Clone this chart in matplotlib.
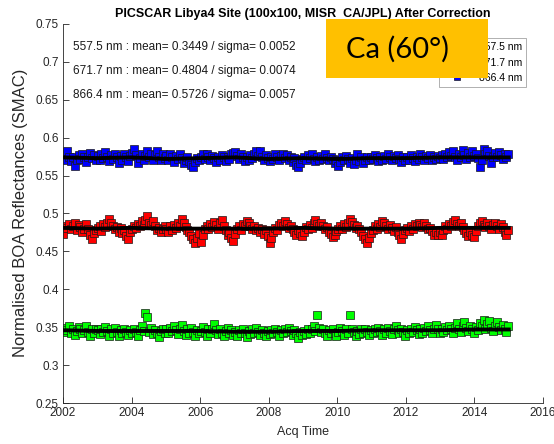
import matplotlib

matplotlib.use("Agg")
import matplotlib.pyplot as plt
import matplotlib.dates as mdates
import pandas as pd
from matplotlib.patches import Rectangle

plt.rcParams["font.family"] = ["Liberation Sans", "DejaVu Sans"]

W, H = 554, 444  # output size in pixels (dpi 100)

# band names, stats printed in the corner, marker colours
BANDS = ["557.5 nm", "671.7 nm", "866.4 nm"]
MEANS = [0.3449, 0.4804, 0.5726]
SIGMAS = [0.0052, 0.0074, 0.0057]
COLORS = ["#00ff00", "#ff0000", "#0000ff"]

# normalised BOA reflectances, one row per year 2002..2014
green = [
    0.344, 0.349, 0.346, 0.351, 0.343, 0.348, 0.340, 0.345, 0.350, 0.347, 0.342, 0.346, 0.352, 0.344, 0.339, 0.347, 0.343, 0.348,
    0.346, 0.341, 0.348, 0.344, 0.350, 0.345, 0.339, 0.347, 0.343, 0.349, 0.344, 0.338, 0.346, 0.342, 0.348, 0.344, 0.340, 0.346,
    0.343, 0.348, 0.344, 0.339, 0.346, 0.351, 0.345, 0.369, 0.363, 0.344, 0.349, 0.341, 0.346, 0.343, 0.337, 0.345, 0.348, 0.342,
    0.347, 0.343, 0.349, 0.345, 0.351, 0.346, 0.341, 0.348, 0.353, 0.345, 0.340, 0.347, 0.343, 0.349, 0.344, 0.339, 0.346, 0.342,
    0.345, 0.350, 0.344, 0.339, 0.347, 0.343, 0.348, 0.354, 0.346, 0.341, 0.347, 0.343, 0.338, 0.345, 0.349, 0.342, 0.346, 0.340,
    0.344, 0.339, 0.346, 0.342, 0.348, 0.343, 0.337, 0.345, 0.341, 0.347, 0.343, 0.349, 0.344, 0.340, 0.346, 0.342, 0.338, 0.345,
    0.341, 0.346, 0.343, 0.348, 0.344, 0.339, 0.346, 0.342, 0.348, 0.344, 0.349, 0.345, 0.340, 0.346, 0.342, 0.336, 0.344, 0.340,
    0.345, 0.341, 0.347, 0.343, 0.348, 0.352, 0.345, 0.366, 0.349, 0.344, 0.348, 0.343, 0.339, 0.346, 0.342, 0.347, 0.343, 0.338,
    0.344, 0.349, 0.345, 0.340, 0.347, 0.343, 0.366, 0.348, 0.344, 0.338, 0.345, 0.341, 0.347, 0.343, 0.348, 0.344, 0.340, 0.346,
    0.342, 0.348, 0.344, 0.349, 0.345, 0.340, 0.347, 0.343, 0.349, 0.345, 0.341, 0.347, 0.352, 0.346, 0.342, 0.348, 0.344, 0.339,
    0.346, 0.342, 0.348, 0.344, 0.350, 0.346, 0.341, 0.347, 0.343, 0.349, 0.345, 0.351, 0.346, 0.342, 0.348, 0.353, 0.347, 0.343,
    0.348, 0.344, 0.350, 0.346, 0.352, 0.347, 0.343, 0.349, 0.355, 0.348, 0.344, 0.351, 0.357, 0.349, 0.345, 0.352, 0.347, 0.343,
    0.350, 0.346, 0.356, 0.351, 0.360, 0.348, 0.354, 0.358, 0.349, 0.345, 0.352, 0.357, 0.350, 0.346, 0.353, 0.348, 0.344, 0.351,
]
red = [
    0.473, 0.484, 0.481, 0.486, 0.479, 0.483, 0.487, 0.478, 0.485, 0.482, 0.476, 0.480, 0.486, 0.479, 0.472, 0.466, 0.474, 0.478,
    0.481, 0.484, 0.477, 0.486, 0.482, 0.488, 0.493, 0.487, 0.484, 0.479, 0.482, 0.476, 0.481, 0.474, 0.478, 0.470, 0.467, 0.475,
    0.479, 0.484, 0.481, 0.486, 0.483, 0.490, 0.485, 0.491, 0.497, 0.488, 0.485, 0.490, 0.483, 0.478, 0.481, 0.475, 0.479, 0.483,
    0.480, 0.476, 0.483, 0.478, 0.485, 0.481, 0.488, 0.484, 0.493, 0.487, 0.482, 0.478, 0.475, 0.470, 0.466, 0.461, 0.468, 0.474,
    0.463, 0.471, 0.479, 0.484, 0.480, 0.486, 0.482, 0.489, 0.485, 0.480, 0.487, 0.491, 0.484, 0.478, 0.472, 0.476, 0.468, 0.464,
    0.473, 0.480, 0.484, 0.478, 0.486, 0.483, 0.490, 0.487, 0.484, 0.479, 0.483, 0.478, 0.481, 0.476, 0.480, 0.473, 0.478, 0.470,
    0.461, 0.468, 0.475, 0.481, 0.478, 0.485, 0.488, 0.483, 0.490, 0.486, 0.481, 0.484, 0.479, 0.475, 0.471, 0.478, 0.474, 0.470,
    0.476, 0.482, 0.479, 0.485, 0.481, 0.487, 0.492, 0.486, 0.483, 0.488, 0.484, 0.479, 0.482, 0.476, 0.473, 0.469, 0.471, 0.477,
    0.480, 0.484, 0.479, 0.486, 0.482, 0.488, 0.493, 0.489, 0.485, 0.481, 0.484, 0.479, 0.475, 0.470, 0.466, 0.461, 0.468, 0.474,
    0.478, 0.483, 0.480, 0.486, 0.482, 0.490, 0.487, 0.484, 0.480, 0.485, 0.481, 0.477, 0.482, 0.475, 0.471, 0.466, 0.473, 0.478,
    0.481, 0.477, 0.484, 0.480, 0.486, 0.483, 0.488, 0.485, 0.482, 0.487, 0.483, 0.479, 0.481, 0.477, 0.472, 0.475, 0.471, 0.476,
    0.471, 0.478, 0.483, 0.480, 0.486, 0.483, 0.489, 0.492, 0.486, 0.483, 0.487, 0.482, 0.478, 0.474, 0.470, 0.476, 0.472, 0.469,
    0.477, 0.483, 0.487, 0.490, 0.485, 0.482, 0.487, 0.484, 0.480, 0.485, 0.488, 0.483, 0.479, 0.486, 0.482, 0.476, 0.472, 0.478,
]
blue = [
    0.571, 0.578, 0.583, 0.575, 0.569, 0.574, 0.563, 0.570, 0.577, 0.572, 0.579, 0.574, 0.568, 0.575, 0.580, 0.573, 0.577, 0.571,
    0.576, 0.570, 0.578, 0.573, 0.581, 0.575, 0.569, 0.577, 0.572, 0.579, 0.574, 0.567, 0.576, 0.571, 0.578, 0.574, 0.569, 0.576,
    0.580, 0.585, 0.577, 0.566, 0.573, 0.578, 0.571, 0.576, 0.582, 0.574, 0.579, 0.570, 0.577, 0.583, 0.575, 0.571, 0.578, 0.573,
    0.576, 0.570, 0.579, 0.574, 0.568, 0.576, 0.572, 0.578, 0.573, 0.567, 0.571, 0.575, 0.569, 0.564, 0.562, 0.568, 0.573, 0.570,
    0.574, 0.578, 0.572, 0.579, 0.575, 0.570, 0.576, 0.573, 0.568, 0.575, 0.571, 0.577, 0.574, 0.569, 0.575, 0.572, 0.578, 0.580,
    0.581, 0.576, 0.572, 0.578, 0.574, 0.569, 0.575, 0.571, 0.577, 0.573, 0.579, 0.583, 0.576, 0.582, 0.575, 0.571, 0.577, 0.573,
    0.569, 0.575, 0.572, 0.578, 0.574, 0.570, 0.576, 0.579, 0.573, 0.577, 0.571, 0.575, 0.568, 0.573, 0.564, 0.562, 0.567, 0.572,
    0.574, 0.570, 0.577, 0.573, 0.578, 0.572, 0.569, 0.575, 0.571, 0.576, 0.572, 0.578, 0.573, 0.570, 0.575, 0.572, 0.566, 0.571,
    0.563, 0.568, 0.574, 0.570, 0.576, 0.572, 0.567, 0.573, 0.565, 0.571, 0.578, 0.569, 0.574, 0.566, 0.571, 0.575, 0.570, 0.574,
    0.572, 0.577, 0.573, 0.569, 0.575, 0.571, 0.576, 0.572, 0.578, 0.574, 0.570, 0.576, 0.573, 0.577, 0.572, 0.568, 0.574, 0.571,
    0.575, 0.571, 0.577, 0.573, 0.569, 0.575, 0.572, 0.578, 0.574, 0.570, 0.576, 0.573, 0.577, 0.571, 0.575, 0.572, 0.576, 0.573,
    0.577, 0.572, 0.578, 0.574, 0.581, 0.576, 0.583, 0.575, 0.571, 0.579, 0.574, 0.584, 0.577, 0.572, 0.580, 0.575, 0.582, 0.576,
    0.579, 0.573, 0.562, 0.570, 0.585, 0.578, 0.583, 0.576, 0.566, 0.574, 0.580, 0.575, 0.581, 0.577, 0.572, 0.578, 0.575, 0.579,
]

# smoothed reference level (black), one value per 1 January
FIT_YEARS = [2002, 2003, 2004, 2005, 2006, 2007, 2008, 2009, 2010, 2011, 2012, 2013, 2014, 2015]
green_fit = [0.346, 0.345, 0.345, 0.345, 0.345, 0.344, 0.344, 0.345, 0.345, 0.346, 0.346, 0.346, 0.347, 0.347]
red_fit = [0.481, 0.480, 0.481, 0.480, 0.480, 0.480, 0.480, 0.481, 0.480, 0.480, 0.480, 0.481, 0.481, 0.481]
blue_fit = [0.574, 0.573, 0.574, 0.572, 0.573, 0.574, 0.572, 0.573, 0.572, 0.573, 0.573, 0.574, 0.574, 0.574]

TITLE = "PICSCAR Libya4 Site (100x100, MISR  CA/JPL) After Correction"
AXIS_GREY = "#262626"


def fx(px):
    return px / W


def fy(py):
    return 1 - py / H


fig = plt.figure(figsize=(W / 100, H / 100), dpi=100)
ax = fig.add_axes([fx(63), fy(403), fx(543) - fx(63), fy(24) - fy(403)])

fit_dates = pd.to_datetime([f"{y}-01-01" for y in FIT_YEARS])
handles = []
for vals, fit, col, band in zip([green, red, blue], [green_fit, red_fit, blue_fit], COLORS, BANDS):
    dates = pd.date_range("2002-01-04", "2014-12-28", periods=len(vals))
    h, = ax.plot(dates, vals, "s", ms=5.6, mfc=col, mec="#1a1a1a", mew=0.5, label=band, zorder=2)
    ax.plot(fit_dates, fit, "-", color="k", lw=2.8, zorder=3)
    handles.append(h)

ax.set_xlim(pd.Timestamp("2002-01-01"), pd.Timestamp("2016-01-01"))
ax.set_ylim(0.25, 0.75)
ax.set_yticks([0.25, 0.3, 0.35, 0.4, 0.45, 0.5, 0.55, 0.6, 0.65, 0.7, 0.75])
ax.set_yticklabels(["0.25", "0.3", "0.35", "0.4", "0.45", "0.5", "0.55", "0.6", "0.65", "0.7", "0.75"])
ax.xaxis.set_major_locator(mdates.YearLocator(2))
ax.xaxis.set_major_formatter(mdates.DateFormatter("%Y"))
ax.tick_params(direction="in", length=4, width=0.6, color=AXIS_GREY,
               labelcolor=AXIS_GREY, labelsize=8.5, pad=3)
for side in ("top", "right"):
    ax.spines[side].set_visible(False)
for side in ("left", "bottom"):
    ax.spines[side].set_color(AXIS_GREY)
    ax.spines[side].set_linewidth(0.6)

leg = ax.legend(handles=handles, loc="upper left", bbox_to_anchor=(fx(439), fy(38)),
                bbox_transform=fig.transFigure, borderaxespad=0, fontsize=7.5,
                frameon=True, fancybox=False, handlelength=2.6, handletextpad=0.8,
                labelspacing=0.52, borderpad=0.4, markerscale=0.85)
leg.get_frame().set_edgecolor("#8c8c8c")
leg.get_frame().set_linewidth(0.6)

# stats lines in the upper-left corner
for i, (band, m, s) in enumerate(zip(BANDS, MEANS, SIGMAS)):
    fig.text(fx(73), fy(47 + 24 * i), f"{band} : mean= {m:.4f} / sigma= {s:.4f}",
             fontsize=8.5, color="#1a1a1a", va="center", ha="left")

fig.text(fx(303), fy(14.5), TITLE, fontsize=9, fontweight="bold", ha="center", va="center", zorder=1)
fig.text(fx(303), fy(432), "Acq Time", fontsize=9, color=AXIS_GREY, ha="center", va="center")
fig.text(fx(21), fy(213), "Normalised BOA Reflectances (SMAC)", fontsize=12, color=AXIS_GREY,
         rotation=90, ha="center", va="center")

# angle tag on top of everything
fig.patches.append(Rectangle((fx(326), fy(78)), fx(488) - fx(326), fy(19) - fy(78),
                             transform=fig.transFigure, fc="#ffc000", ec="none", zorder=10))
fig.text(fx(397), fy(49), "Ca (60°)", family=["Lato", "DejaVu Sans"], fontsize=21,
         color="k", ha="center", va="center", zorder=11)

fig.savefig("out.png", dpi=100)
